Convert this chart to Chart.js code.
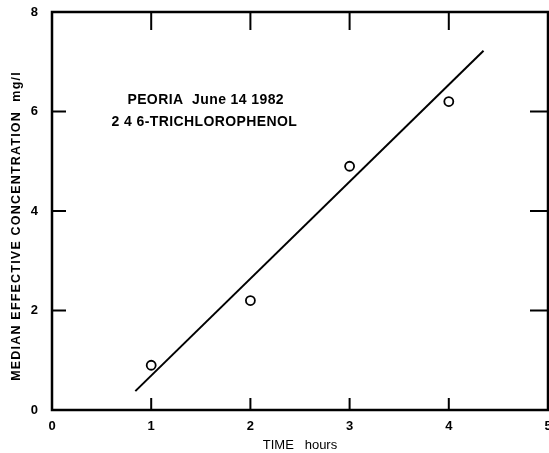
<!DOCTYPE html>
<html>
<head>
<meta charset="utf-8">
<script src="https://cdn.jsdelivr.net/npm/chart.js@4/dist/chart.umd.min.js"></script>
<style>
  html, body { margin: 0; padding: 0; background: #fff; }
  #wrap { width: 549px; height: 453px; }
</style>
</head>
<body>
<div id="wrap"><canvas id="c" width="549" height="453"></canvas></div>
<script>
// Observed median effective concentration (mg/l) against exposure time (hours)
const timeHours = [1, 2, 3, 4];
const concentration = [0.9, 2.2, 4.9, 6.2];

// End points of the fitted straight line
const fitTime = [0.84, 4.35];
const fitConc = [0.38, 7.22];

// Axis tick values
const xTicks = [0, 1, 2, 3, 4, 5];
const yTicks = [0, 2, 4, 6, 8];

// Caption lines and their anchor positions in data units
const captionLines = ['PEORIA  June 14 1982', '2 4 6-TRICHLOROPHENOL'];
const captionX = [0.76, 0.6];
const captionY = [6.23, 5.79];

const yTitle = 'MEDIAN EFFECTIVE CONCENTRATION  mg/l';
const xTitle = 'TIME   hours';

const INK = '#000';
const FONT = '"Liberation Sans", Arial, sans-serif';

// Frame, inward ticks, caption and rotated y title
const framePlugin = {
  id: 'frame',
  afterDraw(chart) {
    const { ctx, chartArea: a, scales: { x, y } } = chart;
    ctx.save();
    ctx.strokeStyle = INK;
    ctx.lineWidth = 2.5;
    ctx.strokeRect(a.left, a.top, a.right - a.left, a.bottom - a.top);

    ctx.lineWidth = 2;
    ctx.beginPath();
    xTicks.slice(1, -1).forEach(v => {
      const px = x.getPixelForValue(v);
      ctx.moveTo(px, a.bottom); ctx.lineTo(px, a.bottom - 12);
      ctx.moveTo(px, a.top); ctx.lineTo(px, a.top + 18);
    });
    yTicks.slice(1, -1).forEach(v => {
      const py = y.getPixelForValue(v);
      ctx.moveTo(a.left, py); ctx.lineTo(a.left + 14, py);
      ctx.moveTo(a.right, py); ctx.lineTo(a.right - 18, py);
    });
    ctx.stroke();

    ctx.fillStyle = INK;
    ctx.font = 'bold 14px ' + FONT;
    ctx.textBaseline = 'middle';
    ctx.textAlign = 'left';
    if ('letterSpacing' in ctx) ctx.letterSpacing = '0.4px';
    captionLines.forEach((t, i) => {
      ctx.fillText(t, x.getPixelForValue(captionX[i]), y.getPixelForValue(captionY[i]));
    });

    ctx.translate(17, 226);
    ctx.rotate(-Math.PI / 2);
    ctx.textAlign = 'center';
    ctx.font = 'bold 12.5px ' + FONT;
    if ('letterSpacing' in ctx) ctx.letterSpacing = '1.2px';
    ctx.fillText(yTitle, 0, 0);
    ctx.restore();
  }
};

new Chart(document.getElementById('c'), {
  type: 'scatter',
  data: {
    datasets: [
      {
        label: 'fit',
        data: fitTime.map((t, i) => ({ x: t, y: fitConc[i] })),
        showLine: true,
        borderColor: INK,
        borderWidth: 2,
        pointRadius: 0,
        fill: false
      },
      {
        label: 'observed',
        data: timeHours.map((t, i) => ({ x: t, y: concentration[i] })),
        pointRadius: 4.5,
        pointBorderWidth: 1.8,
        pointBorderColor: INK,
        pointBackgroundColor: '#fff',
        showLine: false
      }
    ]
  },
  options: {
    responsive: false,
    animation: false,
    layout: { autoPadding: false, padding: { left: 0, right: 1, top: 12, bottom: 0 } },
    plugins: { legend: { display: false }, tooltip: { enabled: false } },
    scales: {
      x: {
        type: 'linear', min: 0, max: 5,
        grid: { display: false },
        border: { display: false },
        afterBuildTicks: s => { s.ticks = xTicks.map(v => ({ value: v })); },
        afterFit: s => { s.height = 43; s.paddingLeft = 0; s.paddingRight = 0; },
        ticks: { color: INK, font: { family: FONT, size: 13, weight: 'bold' }, padding: 1 },
        title: { display: true, text: xTitle, color: INK, font: { family: FONT, size: 13 }, padding: { top: 5, bottom: 0 } }
      },
      y: {
        type: 'linear', min: 0, max: 8,
        grid: { display: false },
        border: { display: false },
        afterBuildTicks: s => { s.ticks = yTicks.map(v => ({ value: v })); },
        afterFit: s => { s.width = 52; s.paddingTop = 0; s.paddingBottom = 0; },
        ticks: { color: INK, font: { family: FONT, size: 13, weight: 'bold' }, padding: 6 }
      }
    }
  },
  plugins: [framePlugin]
});
</script>
</body>
</html>
